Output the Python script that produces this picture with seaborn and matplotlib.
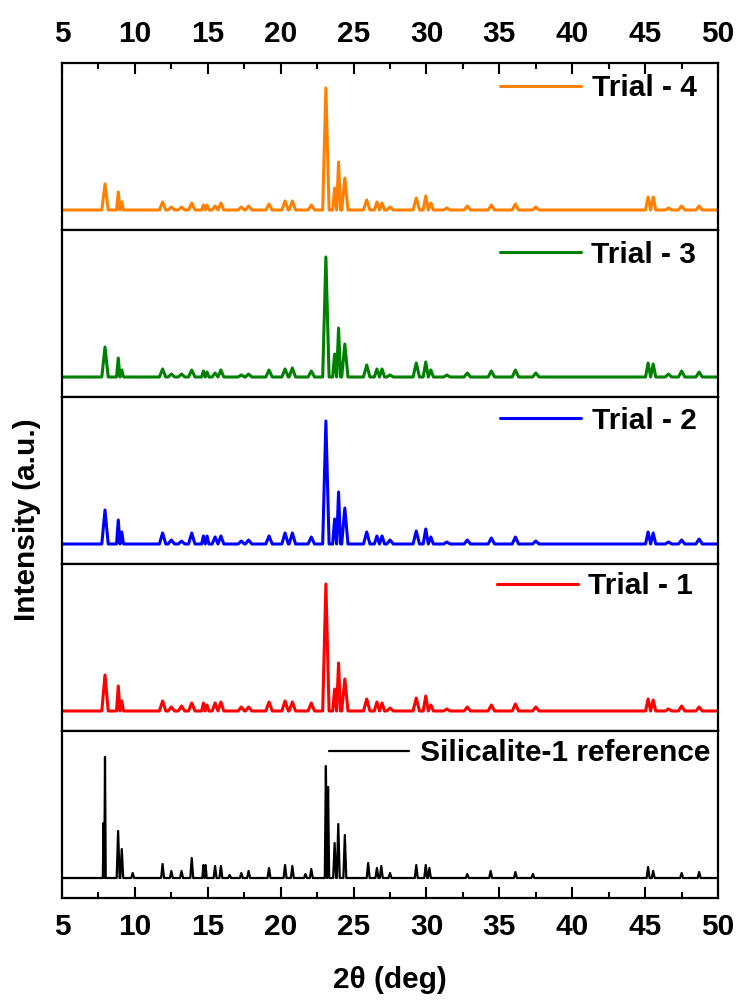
import numpy as np
import pandas as pd
import matplotlib
matplotlib.use("Agg")
import matplotlib.pyplot as plt
import seaborn as sns
from matplotlib.ticker import MultipleLocator

# peak positions (2theta, deg) shared by the four synthesis trials
trial_pos = [7.95, 8.86, 9.1, 11.9, 12.5, 13.2, 13.9, 14.7, 14.95, 15.5,
             15.9, 17.3, 17.8, 19.2, 20.3, 20.8, 22.1, 23.1, 23.7, 23.97,
             24.4, 25.9, 26.6, 26.95, 27.5, 29.3, 29.95, 30.3, 31.4, 32.8,
             34.45, 36.1, 37.5, 45.2, 45.55, 46.6, 47.5, 48.7]

# peak heights above baseline (a.u.)
trial1_h = [36, 25, 10, 10, 4, 5, 8, 8, 6, 8, 9, 4, 4, 9, 10, 9, 8, 127, 22, 48,
            32, 12, 9, 8, 3, 13, 15, 6, 2, 4, 6, 7, 4, 12, 11, 2, 5, 4]
trial2_h = [34, 24, 12, 11, 4, 3, 11, 8, 8, 7, 8, 3, 4, 8, 11, 11, 7, 123, 25, 52,
            36, 12, 8, 8, 4, 13, 15, 7, 2, 4, 6, 7, 3, 12, 11, 2, 4, 5]
trial3_h = [30, 19, 7, 8, 3, 3, 7, 6, 5, 4, 7, 2, 3, 7, 8, 9, 6, 120, 23, 49,
            33, 12, 8, 8, 2, 14, 15, 7, 2, 4, 6, 7, 4, 14, 13, 3, 6, 5]
trial4_h = [26, 18, 8, 8, 3, 3, 7, 5, 5, 4, 7, 3, 4, 6, 9, 9, 5, 122, 22, 48,
            32, 10, 8, 7, 3, 12, 14, 7, 2, 4, 5, 6, 3, 13, 13, 2, 4, 4]

# silicalite-1 reference pattern
ref_pos = [7.85, 7.95, 8.85, 9.1, 9.85, 11.9, 12.5, 13.2, 13.9, 14.7,
           14.85, 15.5, 15.9, 16.5, 17.3, 17.8, 19.2, 20.3, 20.8, 21.7,
           22.1, 23.1, 23.25, 23.7, 23.95, 24.4, 26.0, 26.6, 26.9, 27.5,
           29.3, 29.95, 30.2, 32.8, 34.4, 36.1, 37.3, 45.2, 45.55, 47.5, 48.7]
ref_h = [55, 121, 47, 29, 5, 14, 7, 7, 20, 13, 13, 12, 12, 3, 5, 7, 10, 13, 12, 4,
         9, 112, 91, 35, 54, 43, 15, 10, 12, 5, 13, 13, 10, 4, 7, 6, 4, 11, 7, 5, 6]

labels = ["Trial - 4", "Trial - 3", "Trial - 2", "Trial - 1", "Silicalite-1 reference"]
colors = ["#FF8000", "#008000", "#0000FF", "#FF0000", "black"]


def profile(pos, h, hw_max):
    # baseline -> peak top -> baseline for every read peak,
    # half width limited so neighbouring peaks don't cross
    x = [5.0]
    y = [0.0]
    for k, (p, v) in enumerate(zip(pos, h)):
        left = pos[k] - pos[k - 1] if k > 0 else 1.0
        right = pos[k + 1] - pos[k] if k < len(pos) - 1 else 1.0
        hw = min(hw_max, left / 2, right / 2)
        x += [p - hw, p, p + hw]
        y += [0, v, 0]
    x.append(50.0)
    y.append(0.0)
    return pd.DataFrame({"2theta": x, "I": y})


sns.set_style("white")
plt.rcParams["font.family"] = ["Liberation Sans", "DejaVu Sans"]
plt.rcParams["font.weight"] = "bold"
plt.rcParams["text.color"] = "black"
plt.rcParams["xtick.color"] = "black"
plt.rcParams["axes.labelcolor"] = "black"

fig, axes = plt.subplots(5, 1, figsize=(7.38, 10), dpi=100, sharex=True)
fig.subplots_adjust(left=0.084, right=0.973, top=0.937, bottom=0.102, hspace=0)

data = [(trial_pos, trial4_h, 0.22, 2.2),
        (trial_pos, trial3_h, 0.22, 2.2),
        (trial_pos, trial2_h, 0.22, 2.2),
        (trial_pos, trial1_h, 0.22, 2.2),
        (ref_pos, ref_h, 0.1, 1.6)]
leg_anchor = [(0.967, 0.85), (0.967, 0.852), (0.967, 0.858), (0.962, 0.868), (0.988, 0.868)]

for i, ax in enumerate(axes):
    pos, h, hw, lw = data[i]
    df = profile(pos, h, hw)
    sns.lineplot(data=df, x="2theta", y="I", ax=ax, color=colors[i], lw=lw,
                 sort=False, estimator=None, label=labels[i])
    ax.set_xlim(5, 50)
    ax.set_ylim(-20, 147)
    ax.set_yticks([])
    ax.set_xlabel("")
    ax.set_ylabel("")
    ax.xaxis.set_major_locator(MultipleLocator(5))
    ax.xaxis.set_minor_locator(MultipleLocator(2.5))
    for s in ax.spines.values():
        s.set_linewidth(1.6)
        s.set_color("black")
    ax.tick_params(axis="x", which="both", direction="in", bottom=False, top=False,
                   labelbottom=False, labeltop=False, width=1.5, labelsize=21.5, pad=11,
                   colors="black")
    ax.tick_params(axis="x", which="major", length=8)
    ax.tick_params(axis="x", which="minor", length=4)
    ax.legend(loc="center right", bbox_to_anchor=leg_anchor[i], frameon=False,
              prop={"weight": "bold", "size": 21.5}, handlelength=2.7,
              handletextpad=0.35, borderpad=0, borderaxespad=0)

axes[0].tick_params(axis="x", which="both", top=True, labeltop=True)
axes[-1].tick_params(axis="x", which="both", bottom=True, labelbottom=True)
axes[-1].set_xlabel("2θ (deg)", fontsize=21.5, fontweight="bold", labelpad=18)
fig.text(0.037, 0.48, "Intensity (a.u.)", rotation=90, ha="center", va="center",
         fontsize=21.5, fontweight="bold")

fig.savefig("out.png", dpi=100)
